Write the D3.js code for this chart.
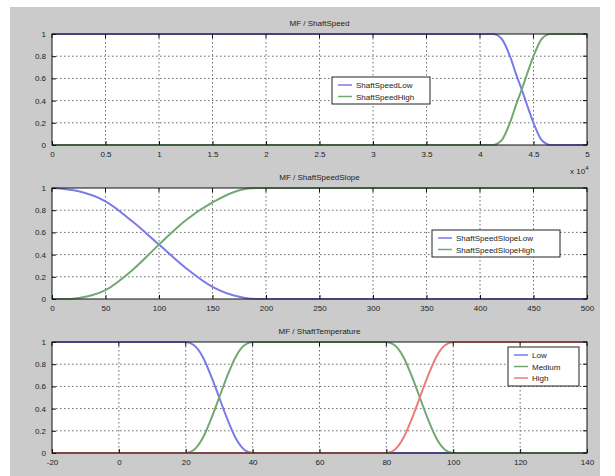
<!DOCTYPE html>
<html>
<head>
<meta charset="utf-8">
<script src="https://cdn.jsdelivr.net/npm/d3@7/dist/d3.min.js"></script>
<style>
html,body{margin:0;padding:0;background:#fff;}
svg{display:block;}
text{font-family:"Liberation Sans",Arial,sans-serif;}
</style>
</head>
<body>
<svg id="c" width="615" height="476"></svg>
<script>
// ---------- data ----------
const titles = ["MF / ShaftSpeed", "MF / ShaftSpeedSlope", "MF / ShaftTemperature"];
const yTicks = [0, 0.2, 0.4, 0.6, 0.8, 1];
const yTickLabels = ["0", "0.2", "0.4", "0.6", "0.8", "1"];

// subplot 1 (x in units of 10^4)
const x1Ticks = [0, 0.5, 1, 1.5, 2, 2.5, 3, 3.5, 4, 4.5, 5];
const x1TickLabels = ["0", "0.5", "1", "1.5", "2", "2.5", "3", "3.5", "4", "4.5", "5"];
const speedNames = ["ShaftSpeedLow", "ShaftSpeedHigh"];
const speedX = [0, 4.12, 4.2, 4.28, 4.34, 4.39, 4.44, 4.5, 4.58, 4.66, 5];
const speedLow = [1, 1, 0.96, 0.8, 0.63, 0.5, 0.36, 0.2, 0.04, 0, 0];
const speedHigh = [0, 0, 0.04, 0.2, 0.37, 0.5, 0.64, 0.8, 0.96, 1, 1];

// subplot 2
const x2Ticks = [0, 50, 100, 150, 200, 250, 300, 350, 400, 450, 500];
const x2TickLabels = ["0", "50", "100", "150", "200", "250", "300", "350", "400", "450", "500"];
const slopeNames = ["ShaftSpeedSlopeLow", "ShaftSpeedSlopeHigh"];
const slopeLowX = [0, 25, 50, 75, 100, 125, 150, 175, 190, 500];
const slopeLow = [1, 0.97, 0.88, 0.7, 0.49, 0.28, 0.11, 0.02, 0, 0];
const slopeHighX = [0, 15, 25, 50, 75, 100, 125, 150, 175, 190, 500];
const slopeHigh = [0, 0, 0.01, 0.08, 0.26, 0.49, 0.71, 0.87, 0.98, 1, 1];

// subplot 3
const x3Ticks = [-20, 0, 20, 40, 60, 80, 100, 120, 140];
const x3TickLabels = ["-20", "0", "20", "40", "60", "80", "100", "120", "140"];
const tempNames = ["Low", "Medium", "High"];
const tempX = [-20, 20, 22.5, 25, 27.5, 30, 32.5, 35, 37.5, 40, 80, 82.5, 85, 87.5, 90, 92.5, 95, 97.5, 100, 140];
const tempLow = [1, 1, 0.97, 0.87, 0.7, 0.5, 0.3, 0.13, 0.03, 0, 0, 0, 0, 0, 0, 0, 0, 0, 0, 0];
const tempMedium = [0, 0, 0.03, 0.13, 0.3, 0.5, 0.7, 0.87, 0.97, 1, 1, 0.97, 0.87, 0.7, 0.5, 0.3, 0.13, 0.03, 0, 0];
const tempHigh = [0, 0, 0, 0, 0, 0, 0, 0, 0, 0, 0, 0.03, 0.13, 0.3, 0.5, 0.7, 0.87, 0.97, 1, 1];

const colors = ["#7a7ae8", "#72a872", "#ec7c7c"];

// ---------- drawing ----------
const svg = d3.select("#c");
svg.append("rect").attr("x", 10).attr("y", 7).attr("width", 590).attr("height", 469).attr("fill", "#cbcbcb");

const L = 52, R = 587, H = 111;
const tops = [34, 188, 342];

const panels = [
  {xd: [0, 5], xt: x1Ticks, xl: x1TickLabels,
   series: [{x: speedX, y: speedLow}, {x: speedX, y: speedHigh}], names: speedNames,
   leg: {x: 332, y: 77, w: 98, h: 27}},
  {xd: [0, 500], xt: x2Ticks, xl: x2TickLabels,
   series: [{x: slopeLowX, y: slopeLow}, {x: slopeHighX, y: slopeHigh}], names: slopeNames,
   leg: {x: 432, y: 230, w: 128, h: 27}},
  {xd: [-20, 140], xt: x3Ticks, xl: x3TickLabels,
   series: [{x: tempX, y: tempLow}, {x: tempX, y: tempMedium}, {x: tempX, y: tempHigh}], names: tempNames,
   leg: {x: 508, y: 347, w: 71, h: 39}}
];

panels.forEach((p, i) => {
  const top = tops[i];
  const x = d3.scaleLinear().domain(p.xd).range([L, R]);
  const y = d3.scaleLinear().domain([0, 1]).range([top + H, top]);
  const g = svg.append("g");

  g.append("rect").attr("x", L).attr("y", top).attr("width", R - L).attr("height", H).attr("fill", "#fff");

  // grid
  p.xt.slice(1, -1).forEach(t => {
    g.append("line").attr("x1", x(t)).attr("x2", x(t)).attr("y1", top).attr("y2", top + H)
      .attr("stroke", "#444").attr("stroke-width", 0.8).attr("stroke-dasharray", "1.5,2.5");
  });
  yTicks.slice(1, -1).forEach(t => {
    g.append("line").attr("x1", L).attr("x2", R).attr("y1", y(t)).attr("y2", y(t))
      .attr("stroke", "#444").attr("stroke-width", 0.8).attr("stroke-dasharray", "1.5,2.5");
  });

  // series
  const line = d3.line().x(d => x(d[0])).y(d => y(d[1])).curve(d3.curveMonotoneX);
  p.series.forEach((s, k) => {
    const pts = s.x.map((v, j) => [v, s.y[j]]);
    g.append("path").attr("d", line(pts)).attr("fill", "none")
      .attr("stroke", colors[k]).attr("stroke-width", 2);
  });

  // axes (bottom and left with inward ticks)
  const xa = d3.axisBottom(x).tickValues(p.xt).tickFormat((d, j) => p.xl[j]).tickSizeInner(-4).tickSizeOuter(0).tickPadding(6);
  const xg = g.append("g").attr("transform", `translate(0,${top + H})`).call(xa);
  const ya = d3.axisLeft(y).tickValues(yTicks).tickFormat((d, j) => yTickLabels[j]).tickSizeInner(-4).tickSizeOuter(0).tickPadding(6);
  const yg = g.append("g").attr("transform", `translate(${L},0)`).call(ya);
  [xg, yg].forEach(a => {
    a.select(".domain").remove();
    a.selectAll("line").attr("stroke", "#111");
    a.selectAll("text").attr("font-size", 8).attr("fill", "#222");
  });
  // top/right inward ticks
  p.xt.forEach(t => g.append("line").attr("x1", x(t)).attr("x2", x(t)).attr("y1", top).attr("y2", top + 4).attr("stroke", "#111"));
  yTicks.forEach(t => g.append("line").attr("x1", R).attr("x2", R - 4).attr("y1", y(t)).attr("y2", y(t)).attr("stroke", "#111"));

  g.append("rect").attr("x", L).attr("y", top).attr("width", R - L).attr("height", H)
    .attr("fill", "none").attr("stroke", "#111").attr("stroke-width", 1);

  // title
  g.append("text").attr("x", (L + R) / 2).attr("y", top - 8).attr("text-anchor", "middle")
    .attr("font-size", 8).attr("fill", "#222").text(titles[i]);

  // legend
  const lg = p.leg;
  g.append("rect").attr("x", lg.x).attr("y", lg.y).attr("width", lg.w).attr("height", lg.h)
    .attr("fill", "#fff").attr("stroke", "#222").attr("stroke-width", 1);
  p.names.forEach((n, k) => {
    const cy = lg.y + 8 + k * 11.5;
    g.append("line").attr("x1", lg.x + 6).attr("x2", lg.x + 20).attr("y1", cy).attr("y2", cy)
      .attr("stroke", colors[k]).attr("stroke-width", 1.5);
    g.append("text").attr("x", lg.x + 24).attr("y", cy + 3).attr("font-size", 8).attr("fill", "#222").text(n);
  });
});

// exponent label for subplot 1
const ex = svg.append("text").attr("x", 570).attr("y", 174).attr("font-size", 8).attr("fill", "#222");
ex.append("tspan").text("x 10");
ex.append("tspan").attr("dy", -4).attr("font-size", 6).text("4");
</script>
</body>
</html>
